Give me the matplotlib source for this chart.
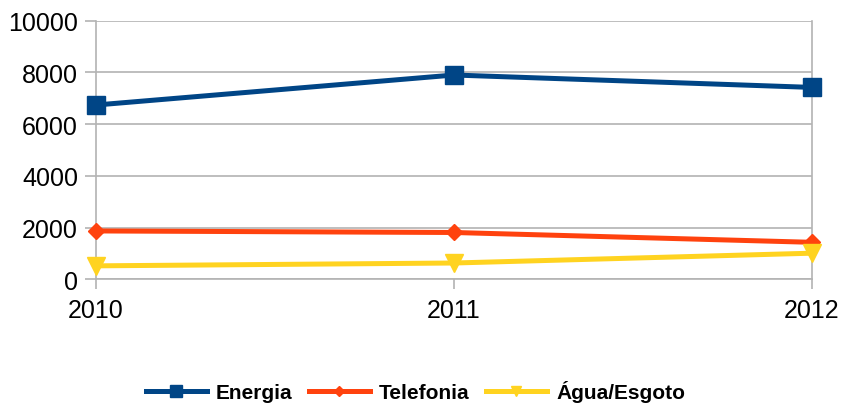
import matplotlib.pyplot as plt

plt.rcParams['font.family'] = ['Liberation Sans', 'DejaVu Sans']

# dados
anos = ['2010', '2011', '2012']
energia = [6740, 7900, 7420]
telefonia = [1870, 1810, 1430]
agua_esgoto = [520, 630, 1010]

cinza = '#b3b3b3'

fig = plt.figure(figsize=(8.43, 4.06), dpi=100)
ax = fig.add_axes([96/843, 1 - 280.3/406, (812 - 96)/843, (280.3 - 21.7)/406])

x = range(len(anos))
ax.plot(x, energia, color='#004586', lw=3.6, marker='s', ms=13.5, label='Energia',
        zorder=3, clip_on=False)
ax.plot(x, telefonia, color='#ff420e', lw=3.6, marker='D', ms=7.8, label='Telefonia',
        zorder=3, clip_on=False)
ax.plot(x, agua_esgoto, color='#ffd320', lw=3.6, marker='v', ms=13, label='Água/Esgoto',
        zorder=3, clip_on=False)

ax.set_xlim(0, 2)
ax.set_ylim(0, 10000)
ax.set_xticks(list(x))
ax.set_xticklabels(anos)
ax.set_yticks(range(0, 10001, 2000))

ax.yaxis.grid(True, color=cinza, lw=1.2)
ax.set_axisbelow(True)
for lado in ['left', 'right', 'bottom']:
    ax.spines[lado].set_color(cinza)
    ax.spines[lado].set_linewidth(1.2)
ax.spines['top'].set_visible(False)
ax.tick_params(axis='y', length=8, width=1.2, color=cinza, labelsize=18, pad=5)
ax.tick_params(axis='x', length=7.5, width=1.2, color=cinza, labelsize=18, pad=6)

fig.legend(loc='center', bbox_to_anchor=(0.493, 1 - 392/406), ncol=3, frameon=False,
           prop={'weight': 'bold', 'size': 15}, handlelength=2.9, handletextpad=0.45,
           columnspacing=0.8, markerscale=0.6)

fig.savefig('out.png', dpi=100)
